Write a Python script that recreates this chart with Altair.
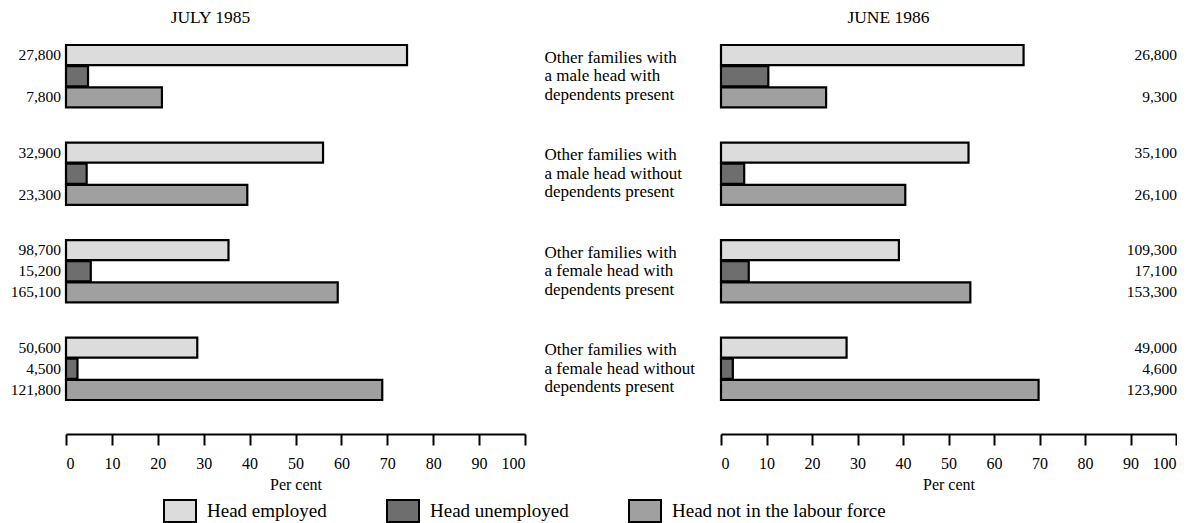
import altair as alt
import pandas as pd

FONT = "Liberation Serif"

groups = [
    "Other families with\na male head with\ndependents present",
    "Other families with\na male head without\ndependents present",
    "Other families with\na female head with\ndependents present",
    "Other families with\na female head without\ndependents present",
]
series = ["Head employed", "Head unemployed", "Head not in the labour force"]
ticks = [0, 10, 20, 30, 40, 50, 60, 70, 80, 90, 100]

# July 1985 (per cent and numbers)
pct85_employed = [74.3, 56.0, 35.4, 28.6]
pct85_unemployed = [4.8, 4.5, 5.4, 2.5]
pct85_notlf = [20.9, 39.5, 59.2, 68.9]
num85_employed = ["27,800", "32,900", "98,700", "50,600"]
num85_unemployed = ["", "", "15,200", "4,500"]
num85_notlf = ["7,800", "23,300", "165,100", "121,800"]

# June 1986 (per cent and numbers)
pct86_employed = [66.5, 54.4, 39.1, 27.6]
pct86_unemployed = [10.4, 5.1, 6.1, 2.6]
pct86_notlf = [23.1, 40.5, 54.8, 69.8]
num86_employed = ["26,800", "35,100", "109,300", "49,000"]
num86_unemployed = ["", "", "17,100", "4,600"]
num86_notlf = ["9,300", "26,100", "153,300", "123,900"]

fills = ["#dcdcdc", "#6e6e6e", "#a0a0a0"]


def build(pcts, nums):
    rows = []
    for s, pl, nl in zip(series, pcts, nums):
        for g, p, n in zip(groups, pl, nl):
            rows.append({"group": g, "series": s, "pct": p, "num": n})
    return pd.DataFrame(rows)


df85 = build([pct85_employed, pct85_unemployed, pct85_notlf],
             [num85_employed, num85_unemployed, num85_notlf])
df86 = build([pct86_employed, pct86_unemployed, pct86_notlf],
             [num86_employed, num86_unemployed, num86_notlf])

yscale = alt.Scale(domain=groups, paddingInner=0.36, paddingOuter=0)
yoff = alt.YOffset("series:N", sort=series,
                   scale=alt.Scale(domain=series, paddingInner=0.05))
color = alt.Color(
    "series:N",
    scale=alt.Scale(domain=series, range=fills),
    legend=alt.Legend(
        title=None, orient="none", direction="horizontal",
        legendX=97, legendY=449,
        symbolType="M-1,-0.6875H1V0.6875H-1Z", symbolSize=1024,
        symbolStrokeColor="black", symbolStrokeWidth=2, symbolOpacity=1,
        labelFont=FONT, labelFontSize=19, labelColor="black",
        labelOffset=10, columnPadding=56, labelLimit=400,
    ),
)


def xaxis():
    return alt.Axis(
        values=ticks, title="Per cent", grid=False, offset=34,
        domainColor="black", domainWidth=2, tickColor="black", tickWidth=2,
        tickSize=11, labelPadding=10, labelFont=FONT, labelFontSize=16,
        labelColor="black", titleFont=FONT, titleFontSize=16,
        titleFontWeight="normal", titleColor="black", titlePadding=5,
    )


def panel(df, title, dx, left):
    x = alt.X("pct:Q", scale=alt.Scale(domain=[0, 100]), axis=xaxis())
    if left:
        y = alt.Y("group:N", scale=yscale, axis=None)
    else:
        y = alt.Y(
            "group:N", scale=yscale,
            axis=alt.Axis(
                title=None, domain=False, ticks=False, tickSize=0,
                labelAlign="left", labelPadding=177, labelBaseline="middle",
                labelOffset=-18.5,
                labelExpr="split(datum.label, '\\n')", labelFont=FONT,
                labelFontSize=17, labelLineHeight=18.5, labelColor="black",
                labelLimit=300,
            ),
        )
    bars = alt.Chart(df).mark_bar(stroke="black", strokeWidth=2.2).encode(
        y=y, yOffset=yoff, x=x, color=color
    )
    if left:
        nums = alt.Chart(df).mark_text(
            align="right", dx=-5, font=FONT, fontSize=15.5, color="black"
        ).encode(y=y, yOffset=yoff, x=alt.datum(0), text="num:N")
    else:
        nums = alt.Chart(df).mark_text(
            align="right", dx=1, font=FONT, fontSize=15.5, color="black"
        ).encode(y=y, yOffset=yoff, x=alt.datum(100), text="num:N")
    return alt.layer(bars, nums).properties(
        width=459 if left else 455,
        height=355,
        title=alt.TitleParams(
            title, anchor="middle", dx=dx, font=FONT, fontSize=17.5,
            fontWeight="normal", color="black", offset=17,
        ),
    )


left = panel(df85, "JULY 1985", -85, True)
right = panel(df86, "JUNE 1986", -60, False)

chart = alt.hconcat(left, right, spacing=18).properties(
    padding={"left": 2, "top": 1, "right": 0, "bottom": 0}
).configure(background="white").configure_view(stroke="transparent", strokeWidth=0)

chart.save("out.html", embed_options={"renderer": "svg", "actions": False})
